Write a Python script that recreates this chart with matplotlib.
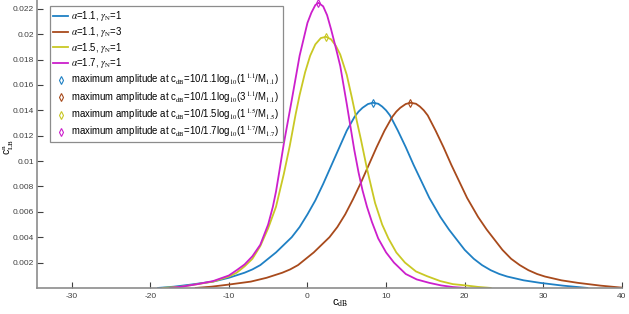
import numpy as np
import matplotlib.pyplot as plt

plt.rcParams['font.family'] = ['Liberation Sans', 'DejaVu Sans']
plt.rcParams['mathtext.fontset'] = 'stix'
plt.rcParams['axes.unicode_minus'] = False

# values
x_a11 = [-19, -17, -15, -12, -10, -8, -7, -6, -5, -4, -3, -2, -1, 0, 1, 2, 3, 4, 5, 6, 6.5,
         7, 7.7, 8.33, 9, 9.5, 10, 10.5, 11.5, 12.5, 13.5, 14.5, 15.5, 16.9, 18, 19, 20,
         21.15, 22.2, 23.3, 24.4, 25.4, 27.5, 29.6, 32.5, 35.6]
y_a11 = [0, 0.0001, 0.00025, 0.0005, 0.0008, 0.0012, 0.00146, 0.0018, 0.0023, 0.0028, 0.0034,
         0.0040, 0.0048, 0.0058, 0.0069, 0.0082, 0.0096, 0.0110, 0.0124, 0.0135, 0.0139,
         0.0142, 0.01450, 0.0146, 0.01452, 0.0143, 0.0140, 0.0136, 0.0124, 0.0111, 0.0097,
         0.0084, 0.0071, 0.0056, 0.0046, 0.0038, 0.0030, 0.0023, 0.0018, 0.0014, 0.0011,
         0.0009, 0.0006, 0.0004, 0.00018, 0]

x_a11_g3 = [-14.2, -12.2, -10.2, -7.2, -5.2, -3.2, -2.2, -1.2, -0.2, 0.8, 1.8, 2.8, 3.8, 4.8,
            5.8, 6.8, 7.8, 8.8, 9.8, 10.8, 11.3, 11.8, 12.5, 13.1, 13.8, 14.3, 14.8, 15.3,
            16.3, 17.3, 18.3, 19.3, 20.3, 21.7, 22.8, 23.8, 24.8, 25.9, 27.0, 28.1, 29.2,
            30.2, 32.3, 34.4, 37.3, 40.4]
y_a11_g3 = [0, 0.0001, 0.00025, 0.0005, 0.0008, 0.0012, 0.00146, 0.0018, 0.0023, 0.0028,
            0.0034, 0.0040, 0.0048, 0.0058, 0.0070, 0.0083, 0.0097, 0.0111, 0.0124, 0.0135,
            0.0139, 0.0142, 0.01450, 0.0146, 0.01452, 0.0143, 0.0140, 0.0136, 0.0124,
            0.0111, 0.0097, 0.0084, 0.0071, 0.0056, 0.0046, 0.0038, 0.0030, 0.0023, 0.0018,
            0.0014, 0.0011, 0.0009, 0.0006, 0.0004, 0.00018, 0]

x_a15 = [-18.4, -16, -14, -12, -10, -9, -8, -7, -6, -5, -4, -3, -2.25, -1.5, -1, -0.3, 0.34,
         1, 1.7, 2.36, 3, 3.6, 4.17, 5, 5.65, 6.3, 6.8, 7.57, 8.6, 9.5, 10.3, 11.3, 12.4,
         13.8, 15.2, 16.9, 18.5, 20.1, 21.7, 23.3]
y_a15 = [0, 0.0001, 0.0003, 0.0005, 0.0009, 0.0012, 0.0017, 0.0023, 0.0033, 0.0047, 0.0064,
         0.0090, 0.0112, 0.0137, 0.0152, 0.0170, 0.0183, 0.0192, 0.0197, 0.0198, 0.0196,
         0.0191, 0.0184, 0.0168, 0.0150, 0.0131, 0.0117, 0.0094, 0.0067, 0.0050, 0.0039,
         0.0028, 0.0020, 0.0013, 0.00093, 0.00054, 0.0003, 0.0002, 0.00008, 0]

x_a17 = [-17.5, -16, -14, -12, -10, -9, -8, -7, -6, -5, -4.4, -4, -3.6, -3, -2, -1, 0, 0.5,
         1, 1.4, 2, 2.5, 3, 3.66, 4.17, 5, 5.95, 6.5, 7, 7.57, 8.2, 9, 10, 11, 12.5, 13.9,
         15.5, 17, 18.5, 20.1]
y_a17 = [0, 0.0001, 0.0003, 0.00054, 0.00098, 0.0014, 0.00185, 0.0025, 0.0034, 0.0050,
         0.0064, 0.0076, 0.0091, 0.0114, 0.0148, 0.0183, 0.0209, 0.0217, 0.0223, 0.02248,
         0.0222, 0.0215, 0.0204, 0.0188, 0.0175, 0.0145, 0.0109, 0.0091, 0.0077, 0.0064,
         0.0052, 0.0039, 0.0028, 0.0020, 0.0011, 0.00067, 0.0004, 0.0002, 0.00007, 0]

peak_x = [8.33, 13.1, 2.36, 1.4]
peak_y = [0.0146, 0.0146, 0.0198, 0.02248]

colors = ['#1f80c4', '#a84a1c', '#c9c824', '#cc1fcc']
line_labels = [r'$\alpha$=1.1, $\gamma_{\rm N}$=1', r'$\alpha$=1.1, $\gamma_{\rm N}$=3',
               r'$\alpha$=1.5, $\gamma_{\rm N}$=1', r'$\alpha$=1.7, $\gamma_{\rm N}$=1']
peak_labels = [r'maximum amplitude at c$_{\rm dB}$=10/1.1log$_{10}$(1$^{\,1.1}$/M$_{1.1}$)',
               r'maximum amplitude at c$_{\rm dB}$=10/1.1log$_{10}$(3$^{\,1.1}$/M$_{1.1}$)',
               r'maximum amplitude at c$_{\rm dB}$=10/1.5log$_{10}$(1$^{\,1.5}$/M$_{1.5}$)',
               r'maximum amplitude at c$_{\rm dB}$=10/1.7log$_{10}$(1$^{\,1.7}$/M$_{1.7}$)']

fig = plt.figure(figsize=(6.29, 3.14), dpi=100)
ax = fig.add_axes([0.0588, 0.083, 0.930, 0.917])

curves = [(x_a11, y_a11), (x_a11_g3, y_a11_g3), (x_a15, y_a15), (x_a17, y_a17)]
for (xs, ys), c, lab in zip(curves, colors, line_labels):
    ax.plot(xs, ys, color=c, lw=1.3, label=lab)
for px, py, c, lab in zip(peak_x, peak_y, colors, peak_labels):
    ax.plot([px], [py], ls='none', marker='d', ms=4, mfc='none', mec=c, mew=0.8, label=lab)

ax.set_xlim(-34.4, 40)
ax.set_ylim(0, 0.0227)
ax.set_xticks(np.arange(-30, 41, 10))
ax.set_yticks(np.arange(0.002, 0.0221, 0.002))
ax.set_yticklabels(['0.002', '0.004', '0.006', '0.008', '0.01', '0.012', '0.014', '0.016',
                    '0.018', '0.02', '0.022'])
ax.tick_params(direction='in', labelsize=6, colors='#404040', length=4, width=0.8)
ax.tick_params(axis='y', pad=2)
for s in ['top', 'right']:
    ax.spines[s].set_visible(False)
for s in ['left', 'bottom']:
    ax.spines[s].set_color('#8c8c8c')
    ax.spines[s].set_linewidth(1.2)

ax.set_xlabel(r'c$_{\rm dB}$', fontsize=8)
ax.xaxis.set_label_coords(0.518, -0.032)
ax.set_ylabel(r'c$_{\rm LB}^{\rm n}$', fontsize=7.5)
ax.yaxis.set_label_coords(-0.036, 0.49)

leg = ax.legend(loc='upper left', bbox_to_anchor=(0.0137, 0.996), fontsize=6.9,
                frameon=True, fancybox=False, framealpha=1, edgecolor='#8c8c8c',
                handlelength=1.6, handletextpad=0.25, labelspacing=0.17, borderpad=0.35)
leg.get_frame().set_linewidth(0.9)

fig.savefig('out.png', dpi=100)
